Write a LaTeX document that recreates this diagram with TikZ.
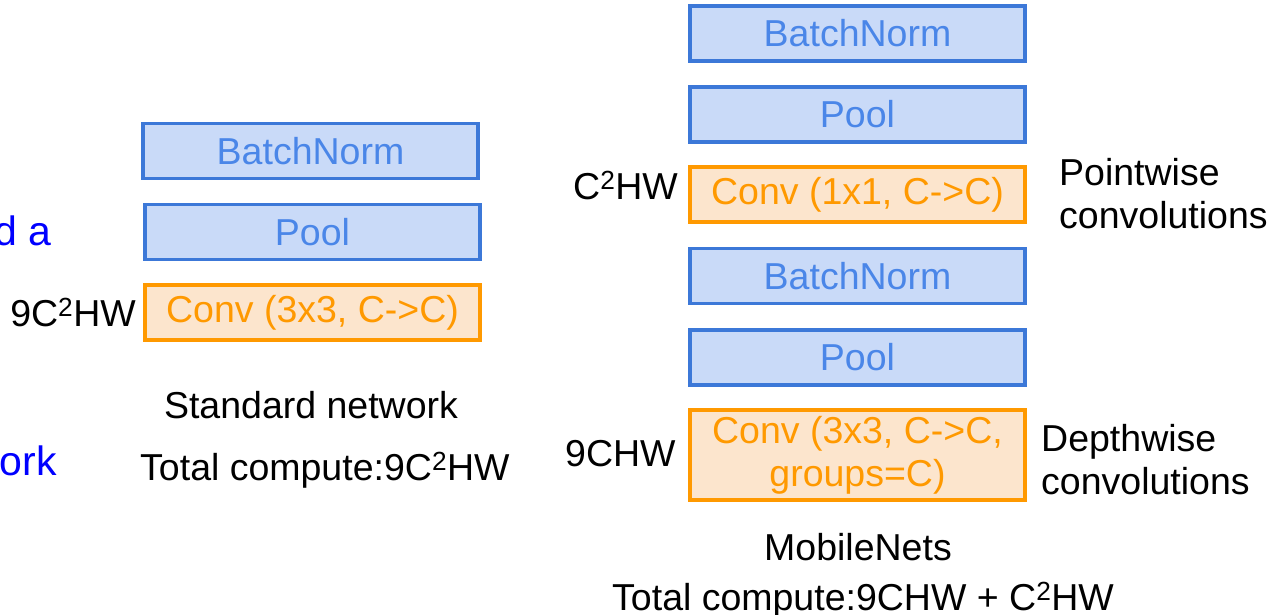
\documentclass[tikz,border=0pt]{standalone}
\usepackage{fontspec}
\setmainfont{Liberation Sans}
\definecolor{bfill}{HTML}{C9DAF8}
\definecolor{bdraw}{HTML}{3C78D8}
\definecolor{btext}{HTML}{4A86E8}
\definecolor{ofill}{HTML}{FCE5CD}
\definecolor{odraw}{HTML}{FF9900}
\definecolor{otext}{HTML}{FF9900}
\definecolor{pureblue}{HTML}{0000FF}
\begin{document}
\begin{tikzpicture}[x=1pt,y=-1pt,
  every node/.style={font=\fontsize{37.5}{43}\selectfont, inner sep=0pt},
  layerbox/.style={draw=bdraw, fill=bfill, text=btext, line width=3.5pt, minimum width=335pt, minimum height=55pt},
  convbox/.style={draw=odraw, fill=ofill, text=otext, line width=3.5pt, minimum width=335pt, minimum height=55pt, align=center},
  lbl/.style={text=black},
  cut/.style={text=pureblue, font=\fontsize{41}{48}\selectfont}]
\useasboundingbox (0,0) rectangle (1272,615);
% left column
\node[layerbox] (lbn) at (310.5,151) {BatchNorm};
\node[layerbox] (lpool) at (312.5,232) {Pool};
\node[convbox] (lconv) at (312.5,312.5) {Conv (3x3, C->C)};
% right column
\node[layerbox] (rbn1) at (857.5,33.5) {BatchNorm};
\node[layerbox] (rpool1) at (857.5,114.5) {Pool};
\node[convbox] (rconv1) at (857.5,194.5) {Conv (1x1, C->C)};
\node[layerbox] (rbn2) at (857.5,276) {BatchNorm};
\node[layerbox] (rpool2) at (857.5,357.5) {Pool};
\node[convbox, minimum height=90pt] (rconv2) at (857.5,455) {Conv (3x3, C->C,\\groups=C)};
% cut-off blue text
\node[cut, anchor=base east] (cuta) at (52,245) {d a};
\node[cut, anchor=base east] (cutb) at (57,475) {ork};
% labels
\node[lbl, anchor=base east] (l9c) at (136,326) {9C\textsuperscript{2}HW};
\node[lbl, anchor=base west] (rc2) at (573,199) {C\textsuperscript{2}HW};
\node[lbl, anchor=base west, align=left] (pw) at (1059,228) {Pointwise\\convolutions};
\node[lbl, anchor=base west] (r9c) at (565,466) {9CHW};
\node[lbl, anchor=base west, align=left] (dw) at (1041,494) {Depthwise\\convolutions};
\node[lbl, anchor=base] (std) at (311,418) {Standard network};
\node[lbl, anchor=base west] (stdc) at (140,480) {Total compute:9C\textsuperscript{2}HW};
\node[lbl, anchor=base] (mob) at (858,560) {MobileNets};
\node[lbl, anchor=base west] (mobc) at (612,610) {Total compute:9CHW + C\textsuperscript{2}HW};
\end{tikzpicture}
\end{document}
